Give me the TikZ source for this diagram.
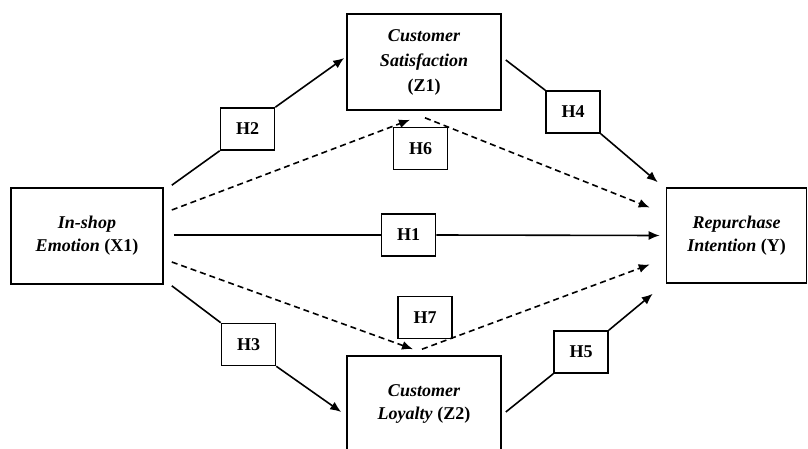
\documentclass[tikz,border=0pt]{standalone}
\usepackage{fontspec}
\setmainfont{Liberation Serif}
\usetikzlibrary{arrows.meta, calc}

\begin{document}
\begin{tikzpicture}[x=1pt, y=-1pt,
    varbox/.style={draw, line width=1.6pt, align=center, inner sep=0pt,
      minimum width=152pt, minimum height=96pt,
      font=\bfseries\itshape\fontsize{18}{23}\selectfont},
    hbox/.style={draw, line width=1.6pt, inner sep=0pt,
      minimum width=54pt, minimum height=42pt,
      font=\bfseries\fontsize{18}{20}\selectfont},
    path/.style={line width=1.6pt},
    tip/.style={-{Latex[length=11pt, width=9pt]}},
    indirect/.style={line width=1.6pt, dash pattern=on 6pt off 4pt}]
  \useasboundingbox (0,0) rectangle (808,449);
  \clip (0,0) rectangle (808,449);

  % variables
  \node[varbox] (x1) at (87,236) {In-shop\\Emotion \textup{(X1)}};
  \node[varbox, minimum width=154pt, font=\bfseries\itshape\fontsize{18}{25}\selectfont] (z1) at (424,62) {Customer\\Satisfaction\\\textup{(Z1)}};
  \node[varbox, minimum width=154pt] (z2) at (424,404) {Customer\\Loyalty \textup{(Z2)}};
  \node[varbox, minimum width=140pt, minimum height=95pt] (y) at (736.5,235.5) {Repurchase\\Intention \textup{(Y)}};

  % hypotheses
  \node[hbox] (h1) at (408.5,235) {H1};
  \node[hbox] (h2) at (247.5,129) {H2};
  \node[hbox] (h3) at (248.5,344.5) {H3};
  \node[hbox] (h4) at (573,112) {H4};
  \node[hbox] (h5) at (581,352) {H5};
  \node[hbox] (h6) at (420.5,148.5) {H6};
  \node[hbox] (h7) at (425,317.5) {H7};

  % direct paths
  \draw[path] ($(x1.north east)+(8,-2)$) -- (h2.south west);
  \draw[path, tip] (h2.north east) -- ($(z1.west)+(-2,-4)$);
  \draw[path] ($(x1.east)+(10,-1)$) -- (h1.west);
  \draw[path, tip] (h1.east) -- ($(y.west)+(-6,0)$);
  \draw[path] ($(x1.south east)+(8,1)$) -- (h3.north west);
  \draw[path, tip] (h3.south east) -- ($(z2.west)+(-5,8)$);
  \draw[path] ($(z1.east)+(4,-2)$) -- (h4.north west);
  \draw[path, tip] (h4.south east) -- ($(y.north west)+(-8,-5)$);
  \draw[path] ($(z2.east)+(4,8)$) -- (h5.south west);
  \draw[path, tip] (h5.north east) -- ($(y.south west)+(-13,10)$);

  % mediated paths
  \draw[indirect, tip] ($(x1.east)+(8,-26)$) -- ($(z1.south)+(-14,9)$);
  \draw[indirect, tip] ($(z1.south)+(1,7)$) -- ($(y.west)+(-16,-28)$);
  \draw[indirect, tip] ($(x1.east)+(8,26)$) -- ($(z2.north)+(-11,-6)$);
  \draw[indirect, tip] ($(z2.north)+(-2,-6)$) -- ($(y.west)+(-16,29)$);
\end{tikzpicture}
\end{document}
